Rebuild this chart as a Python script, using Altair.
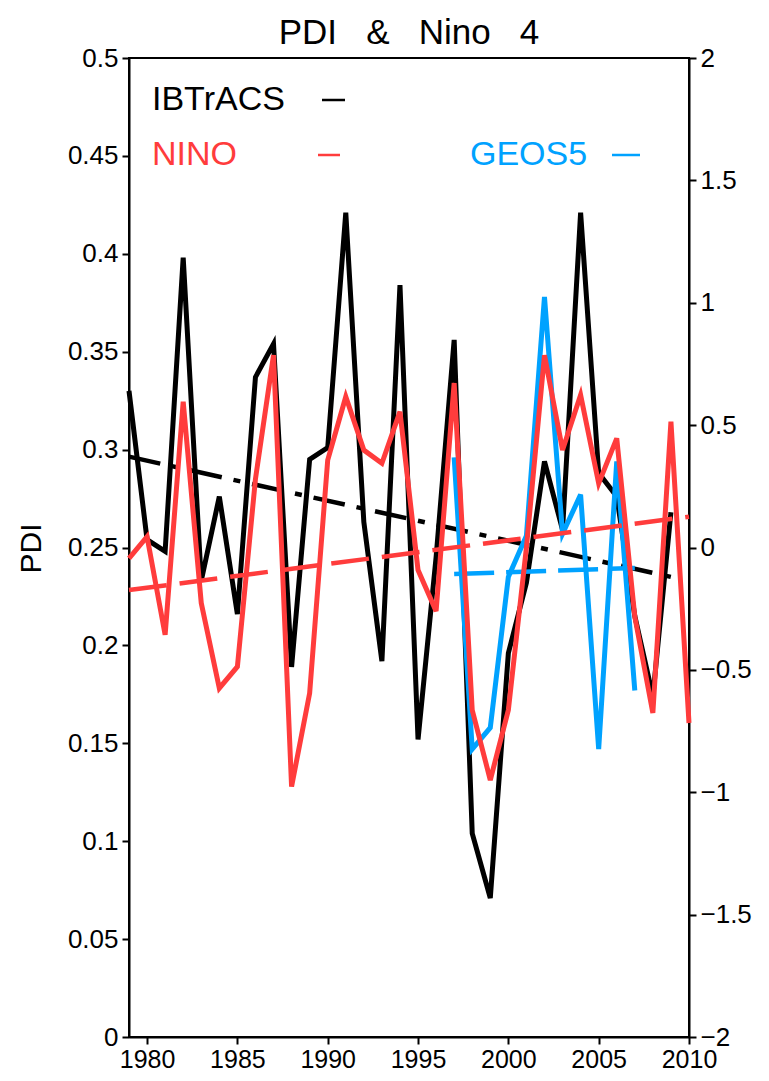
import altair as alt
import pandas as pd

FONT = "Liberation Sans"

# ---- data ----
ibtracs_years = list(range(1979, 2010))
ibtracs = [0.330, 0.254, 0.248, 0.398, 0.233, 0.276, 0.216, 0.337, 0.354, 0.189,
           0.295, 0.301, 0.421, 0.263, 0.192, 0.384, 0.152, 0.245, 0.356, 0.104,
           0.071, 0.196, 0.232, 0.294, 0.259, 0.421, 0.288, 0.276, 0.215, 0.174,
           0.268]

nino_years = list(range(1979, 2011))
nino = [-0.044, 0.044, -0.357, 0.596, -0.227, -0.575, -0.487, 0.28, 0.786, -0.977,
        -0.595, 0.357, 0.616, 0.398, 0.344, 0.555, -0.092, -0.26, 0.672, -0.664,
        -0.95, -0.664, 0.0, 0.786, 0.398, 0.623, 0.262, 0.446, -0.283, -0.676,
        0.514, -0.717]

geos5_years = list(range(1997, 2008))
geos5 = [0.296, 0.147, 0.158, 0.235, 0.256, 0.378, 0.257, 0.277, 0.147, 0.294, 0.177]

ib_trend_years = [1979, 2009]
ib_trend = [0.2964, 0.235]
nino_trend_years = [1979, 2010]
nino_trend = [-0.174, 0.126]
geos_trend_years = [1997, 2007]
geos_trend = [0.2365, 0.2395]

x_ticks = [1980, 1985, 1990, 1995, 2000, 2005, 2010]
pdi_ticks = [0, 0.05, 0.1, 0.15, 0.2, 0.25, 0.3, 0.35, 0.4, 0.45, 0.5]
nino_ticks = [-2, -1.5, -1, -0.5, 0, 0.5, 1, 1.5, 2]

BLACK = "#000000"
RED = "#ff3c3c"
BLUE = "#00a2ff"

GAP = " \u00a0\u00a0"
TITLE = "PDI" + GAP + "&" + GAP + "Nino" + GAP + "4"


def df(xs, ys):
    return pd.DataFrame({"year": xs, "v": ys})


xscale = alt.Scale(domain=[1979, 2010], nice=False, zero=False)
xaxis = alt.Axis(values=x_ticks, format="d", title=None, grid=False,
                 labelFont=FONT, labelFontSize=25, labelColor="black",
                 labelPadding=3, tickSize=7, tickWidth=2, tickColor="black",
                 domainColor="black", domainWidth=2, labelFlush=False)
X = alt.X("year:Q", scale=xscale, axis=xaxis)

pdi_scale = alt.Scale(domain=[0, 0.5], nice=False, zero=False)
pdi_axis = alt.Axis(values=pdi_ticks, format=".2~f", orient="left", grid=False,
                    title="PDI", titleFont=FONT, titleFontSize=30,
                    titleFontWeight="normal", titleColor="black",
                    titleAngle=270, titleAlign="center", titleBaseline="middle",
                    titleX=-98, titleY=490,
                    labelFont=FONT, labelFontSize=26, labelColor="black",
                    labelPadding=4, tickSize=7, tickWidth=2, tickColor="black",
                    domainColor="black", domainWidth=2)
Yp = alt.Y("v:Q", scale=pdi_scale, axis=pdi_axis)

nino_scale = alt.Scale(domain=[-2, 2], nice=False, zero=False)
nino_axis = alt.Axis(values=nino_ticks, format=".1~f", orient="right", grid=False,
                     title="",
                     labelFont=FONT, labelFontSize=26, labelColor="black",
                     labelPadding=4, tickSize=7, tickWidth=2, tickColor="black",
                     domainColor="black", domainWidth=2)
Yn = alt.Y("v:Q", scale=nino_scale, axis=nino_axis)

LW = 5
TW = 4.5

black_line = alt.Chart(df(ibtracs_years, ibtracs)).mark_line(
    color=BLACK, strokeWidth=LW).encode(x=X, y=Yp)
black_trend = alt.Chart(df(ib_trend_years, ib_trend)).mark_line(
    color=BLACK, strokeWidth=TW, strokeDash=[32, 12, 7, 12]).encode(x=X, y=Yp)
blue_line = alt.Chart(df(geos5_years, geos5)).mark_line(
    color=BLUE, strokeWidth=LW).encode(x=X, y=Yp)
blue_trend = alt.Chart(df(geos_trend_years, geos_trend)).mark_line(
    color=BLUE, strokeWidth=TW, strokeDash=[40, 12]).encode(x=X, y=Yp)

left = alt.layer(black_line, black_trend, blue_line, blue_trend)

red_line = alt.Chart(df(nino_years, nino)).mark_line(
    color=RED, strokeWidth=LW).encode(x=X, y=Yn)
red_trend = alt.Chart(df(nino_trend_years, nino_trend)).mark_line(
    color=RED, strokeWidth=TW, strokeDash=[38, 13]).encode(x=X, y=Yn)

right = alt.layer(red_line, red_trend)

legend_labels = ["IBTrACS", "NINO", "GEOS5"]
legend_colors = [BLACK, RED, BLUE]
legend_x = [23, 23, 341]
legend_y = [42, 97, 97]
dash_x = [193, 189, 483]
dash_x2 = [216, 211, 511]

legend_layers = []
for lab, col, lx, ly, dx, dx2 in zip(legend_labels, legend_colors, legend_x,
                                     legend_y, dash_x, dash_x2):
    legend_layers.append(
        alt.Chart(pd.DataFrame({"t": [lab]})).mark_text(
            font=FONT, fontSize=34, color=col, align="left", baseline="middle"
        ).encode(x=alt.value(lx), y=alt.value(ly), text="t:N"))
    legend_layers.append(
        alt.Chart(pd.DataFrame({"t": [lab]})).mark_rule(
            color=col, strokeWidth=2.5
        ).encode(x=alt.value(dx), x2=alt.value(dx2), y=alt.value(ly)))

chart = alt.layer(left, right, *legend_layers).resolve_scale(
    y="independent"
).properties(
    width=560, height=979,
    title=alt.TitleParams(TITLE, font=FONT, fontSize=35,
                          fontWeight="normal", color="black", anchor="middle",
                          offset=-6),
    autosize=alt.AutoSizeParams(type="none"),
    padding={"left": 121, "top": 50, "right": 72, "bottom": 36},
).configure_view(stroke="black", strokeWidth=2)

chart.save("out.html", embed_options={"renderer": "svg", "actions": False})
